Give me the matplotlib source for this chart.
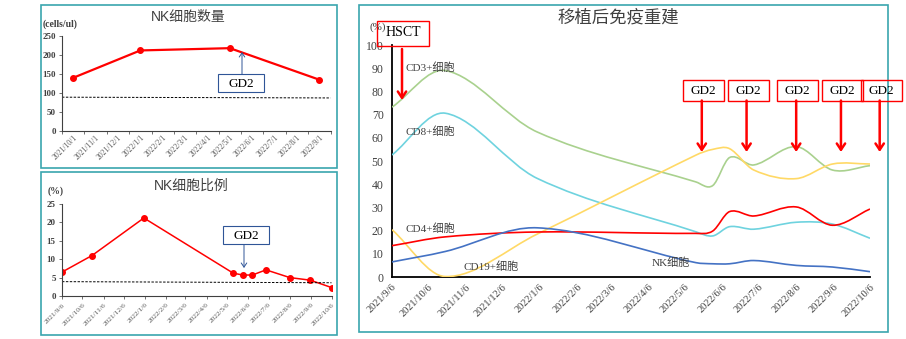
import numpy as np
import pandas as pd
import matplotlib
matplotlib.use('Agg')
import matplotlib.pyplot as plt
import matplotlib.dates as mdates
from matplotlib.patches import Rectangle, FancyArrowPatch, PathPatch
from matplotlib.path import Path

plt.rcParams['font.family'] = ['Liberation Serif', 'Noto Sans CJK SC']
plt.rcParams['axes.unicode_minus'] = False

# ---- data ----
# NK细胞数量 (monthly category axis)
count_months = ['2021/10/1', '2021/11/1', '2021/12/1', '2022/1/1', '2022/2/1', '2022/3/1',
                '2022/4/1', '2022/5/1', '2022/6/1', '2022/7/1', '2022/8/1', '2022/9/1']
count_idx = [0, 3, 7, 11]
count_vals = [140, 212, 218, 135]
count_ref = [89, 87]

# sample dates used in the ratio chart and the reconstruction chart
sample_dates = ['2021-09-06', '2021-10-20', '2022-01-04', '2022-05-15', '2022-05-29',
                '2022-06-12', '2022-07-02', '2022-08-06', '2022-09-05', '2022-10-06']
nk_ratio = [6.5, 11.0, 21.2, 6.2, 5.7, 5.7, 7.1, 5.0, 4.3, 2.3]
ratio_ref = [3.9, 3.6]

cd3 = [73.2, 89.0, 62.5, 41.0, 39.4, 51.5, 48.3, 56.2, 46.1, 48.0]
cd8 = [52.6, 70.6, 42.5, 19.5, 17.7, 21.7, 20.6, 23.6, 22.8, 16.7]
cd4 = [13.5, 17.3, 19.4, 18.8, 19.8, 28.2, 26.3, 30.2, 22.3, 29.3]
cd19 = [20.4, 0.2, 18.5, 52.5, 55.0, 55.3, 46.1, 42.4, 48.7, 48.7]

tick_dates = ['2021-09-06', '2021-10-06', '2021-11-06', '2021-12-06', '2022-01-06', '2022-02-06',
              '2022-03-06', '2022-04-06', '2022-05-06', '2022-06-06', '2022-07-06', '2022-08-06',
              '2022-09-06', '2022-10-06']
tick_labels = ['2021/9/6', '2021/10/6', '2021/11/6', '2021/12/6', '2022/1/6', '2022/2/6',
               '2022/3/6', '2022/4/6', '2022/5/6', '2022/6/6', '2022/7/6', '2022/8/6',
               '2022/9/6', '2022/10/6']

gd2_dates = ['2022-05-20', '2022-06-26', '2022-08-06', '2022-09-12', '2022-10-14']

W, H = 906, 339
fig = plt.figure(figsize=(W / 100, H / 100), dpi=100)


def rect(l, t, r, b):
    # pixel box -> figure fraction
    return [l / W, 1 - b / H, (r - l) / W, (b - t) / H]


def smooth(ax, x, y, color, lw=1.2):
    # smoothed line: cubic bezier (hermite) through the points
    x = np.asarray(x, float)
    y = np.asarray(y, float)
    n = len(x)
    m = np.zeros(n)
    m[0] = (y[1] - y[0]) / (x[1] - x[0])
    m[-1] = (y[-1] - y[-2]) / (x[-1] - x[-2])
    for i in range(1, n - 1):
        m[i] = (y[i + 1] - y[i - 1]) / (x[i + 1] - x[i - 1])
    verts = [(x[0], y[0])]
    codes = [Path.MOVETO]
    for i in range(n - 1):
        h = x[i + 1] - x[i]
        verts += [(x[i] + h / 3, y[i] + m[i] * h / 3),
                  (x[i + 1] - h / 3, y[i + 1] - m[i + 1] * h / 3),
                  (x[i + 1], y[i + 1])]
        codes += [Path.CURVE4] * 3
    ax.add_patch(PathPatch(Path(verts, codes), fc='none', ec=color, lw=lw, zorder=3))


gray = '#595959'
dark = '#404040'

# ---- NK细胞数量 ----
ax1 = fig.add_axes(rect(62, 36, 330.5, 131))
ax1.plot(count_idx, count_vals, color='#ff0000', lw=1.6, marker='o', ms=4)
ax1.plot([-0.5, 11.5], count_ref, color='black', lw=0.7, ls=(0, (2.5, 1.5)))
ax1.set_xlim(-0.5, 11.5)
ax1.set_ylim(0, 250)
ax1.set_yticks(range(0, 251, 50))
ax1.set_xticks(np.arange(-0.5, 12, 1))
ax1.set_xticklabels([])
ax1.set_xticks(range(12), minor=True)
ax1.set_xticklabels(count_months, minor=True, rotation=45, ha='right', va='top',
                    rotation_mode='anchor', fontsize=5.5, color=gray)
ax1.tick_params(axis='x', which='minor', length=0, pad=2)
ax1.tick_params(axis='x', which='major', length=2.5, width=0.6, color=gray)
ax1.tick_params(axis='y', length=2.5, width=0.6, color=gray, labelsize=6.5, labelcolor=dark, pad=2)
for lab in ax1.get_yticklabels():
    lab.set_fontweight('bold')
for s in ['top', 'right']:
    ax1.spines[s].set_visible(False)
for s in ['left', 'bottom']:
    ax1.spines[s].set_color(dark)
    ax1.spines[s].set_linewidth(0.8)

# ---- NK细胞比例 ----
sd = pd.to_datetime(sample_dates)
td = pd.to_datetime(tick_dates)
ax2 = fig.add_axes(rect(62, 204, 331.5, 296))
ax2.plot(sd, nk_ratio, color='#ff0000', lw=1.1, marker='o', ms=4)
ax2.plot([td[0], td[-1]], ratio_ref, color='black', lw=0.7, ls=(0, (2.5, 1.5)))
ax2.set_xlim(td[0], td[-1])
ax2.set_ylim(0, 25)
ax2.set_yticks(range(0, 26, 5))
ax2.set_xticks(td)
ax2.set_xticklabels(tick_labels, rotation=45, ha='right', va='top', rotation_mode='anchor',
                    fontsize=5.3, color=gray)
ax2.tick_params(axis='x', length=2.5, width=0.6, color=gray, pad=2)
ax2.tick_params(axis='y', length=2.5, width=0.6, color=gray, labelsize=6.5, labelcolor=dark, pad=2)
for lab in ax2.get_yticklabels():
    lab.set_fontweight('bold')
for s in ['top', 'right']:
    ax2.spines[s].set_visible(False)
for s in ['left', 'bottom']:
    ax2.spines[s].set_color(dark)
    ax2.spines[s].set_linewidth(0.8)

# ---- 移植后免疫重建 ----
ax3 = fig.add_axes(rect(392, 45, 870, 277))
xs = mdates.date2num(sd)
smooth(ax3, xs, cd3, '#a9d18e')
smooth(ax3, xs, cd8, '#6fd3df')
smooth(ax3, xs, cd19, '#ffd966')
smooth(ax3, xs, cd4, '#ff0000')
smooth(ax3, xs, nk_ratio, '#4472c4')
ax3.set_xlim(mdates.date2num(td[0]), mdates.date2num(td[-1]))
ax3.set_ylim(0, 100)
ax3.set_yticks(range(0, 101, 10))
ax3.set_xticks(mdates.date2num(td))
ax3.set_xticklabels(tick_labels, rotation=45, ha='right', va='top', rotation_mode='anchor',
                    fontsize=7.5, color=dark)
ax3.tick_params(axis='x', length=0, pad=4)
ax3.tick_params(axis='y', length=0, labelsize=8.5, labelcolor=dark, pad=6)
for s in ['top', 'right']:
    ax3.spines[s].set_visible(False)
for s in ['left', 'bottom']:
    ax3.spines[s].set_color('black')
    ax3.spines[s].set_linewidth(1.3)

# ---- overlay in pixel coordinates ----
ov = fig.add_axes([0, 0, 1, 1], zorder=10)
ov.set_xlim(0, W)
ov.set_ylim(H, 0)
ov.axis('off')
ov.patch.set_alpha(0)

teal = '#3aa5ae'
for l, t, r, b in [(41, 5, 337, 168), (41, 172, 337, 335), (359, 5, 888, 332)]:
    ov.add_patch(Rectangle((l, t), r - l, b - t, fc='none', ec=teal, lw=1.2))

sans = ['Liberation Sans', 'Noto Sans CJK SC']
ov.text(188, 17, 'NK细胞数量', ha='center', va='center', fontsize=10, color=dark, family=sans)
ov.text(191, 186, 'NK细胞比例', ha='center', va='center', fontsize=10, color=dark, family=sans)
ov.text(618, 18, '移植后免疫重建', ha='center', va='center', fontsize=12.5, color=dark,
        family=['Noto Sans CJK SC'])
ov.text(60, 24, '(cells/ul)', ha='center', va='center', fontsize=7, color=dark, fontweight='bold')
ov.text(56, 191, '(%)', ha='center', va='center', fontsize=7, color=dark, fontweight='bold')
ov.text(378, 27, '(%)', ha='center', va='center', fontsize=8, color=dark)

# GD2 markers on the left panels
navy = '#2f5597'
ov.add_patch(Rectangle((218, 74), 46, 18, fc='none', ec=navy, lw=0.8))
ov.text(241, 84, 'GD2', ha='center', va='center', fontsize=9.5, color='black')
ov.add_patch(FancyArrowPatch((242, 74), (242, 52), arrowstyle='->,head_length=3,head_width=2',
                             mutation_scale=1, color=navy, lw=0.7, shrinkA=0, shrinkB=0))
ov.add_patch(Rectangle((223, 226), 46, 18, fc='none', ec=navy, lw=0.8))
ov.text(246, 236, 'GD2', ha='center', va='center', fontsize=9.5, color='black')
ov.add_patch(FancyArrowPatch((244, 245), (244, 268), arrowstyle='->,head_length=3,head_width=2',
                             mutation_scale=1, color=navy, lw=0.7, shrinkA=0, shrinkB=0))

# GD2 infusions on the right chart: position from the date axis
for d in pd.to_datetime(gd2_dates):
    px = ax3.transData.transform((mdates.date2num(d), 0))[0]
    ov.add_patch(Rectangle((px - 19, 79.5), 41, 21, fc='none', ec='#ff0000', lw=1.0))
    ov.text(px + 1.5, 90.5, 'GD2', ha='center', va='center', fontsize=9.5, color='black')
    ov.add_patch(FancyArrowPatch((px, 100.5), (px, 152), arrowstyle='->,head_length=4.5,head_width=3',
                                 mutation_scale=1, color='#ff0000', lw=1.8, shrinkA=0, shrinkB=0))

# HSCT
ov.add_patch(Rectangle((377, 21), 52, 25, fc='none', ec='#ff0000', lw=1.0))
ov.text(403, 33, 'HSCT', ha='center', va='center', fontsize=10, color='black')
ov.add_patch(FancyArrowPatch((402, 49), (402, 100), arrowstyle='->,head_length=4.5,head_width=3',
                             mutation_scale=1, color='#ff0000', lw=1.8, shrinkA=0, shrinkB=0))

# series labels
for x, y, s in [(405, 68, 'CD3+细胞'), (405, 132, 'CD8+细胞'), (405, 229, 'CD4+细胞'),
                (463, 267, 'CD19+细胞'), (652, 263, 'NK细胞')]:
    ov.text(x, y, s, ha='left', va='center', fontsize=8, color=dark)

fig.savefig('out.png', dpi=100)
